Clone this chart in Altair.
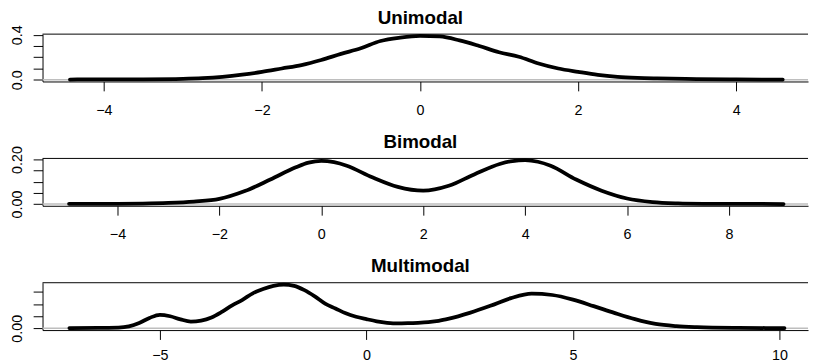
import altair as alt
import pandas as pd

# ---- data ----
uni_x = [-4.43, -4.0, -3.5, -3.0, -2.75, -2.5, -2.25, -2.0, -1.75, -1.5, -1.25, -1.0, -0.75,
         -0.5, -0.25, 0.0, 0.25, 0.5, 0.75, 1.0, 1.25, 1.5, 1.75, 2.0, 2.25, 2.5, 2.75, 3.0,
         3.5, 4.0, 4.59]
uni_y = [0.002, 0.003, 0.004, 0.008, 0.014, 0.026, 0.045, 0.070, 0.100, 0.130, 0.175, 0.230, 0.280,
         0.345, 0.375, 0.390, 0.385, 0.350, 0.300, 0.245, 0.205, 0.145, 0.100, 0.070, 0.043, 0.026, 0.017, 0.012,
         0.006, 0.003, 0.001]

bi_x = [-4.95, -4.0, -3.5, -3.0, -2.5, -2.0, -1.5, -1.0, -0.5, -0.25, 0.0, 0.25, 0.5, 1.0, 1.5,
        2.0, 2.5, 3.0, 3.5, 3.75, 4.0, 4.25, 4.5, 5.0, 5.5, 6.0, 6.5, 7.0, 7.5, 8.0, 9.07]
bi_y = [0.001, 0.001, 0.002, 0.005, 0.011, 0.023, 0.058, 0.110, 0.165, 0.186, 0.194, 0.188, 0.172, 0.120, 0.077,
        0.060, 0.082, 0.133, 0.180, 0.193, 0.197, 0.190, 0.172, 0.110, 0.060, 0.025, 0.009, 0.003, 0.001, 0.0005, 0.0]

multi_x = [-7.19, -6.5, -6.0, -5.75, -5.5, -5.25, -5.0, -4.75, -4.5, -4.25, -4.0, -3.75, -3.5, -3.25,
           -3.0, -2.75, -2.5, -2.25, -2.0, -1.75, -1.5, -1.25, -1.0, -0.75, -0.5, -0.25, 0.0, 0.25,
           0.5, 0.75, 1.0, 1.25, 1.5, 1.75, 2.0, 2.5, 3.0, 3.5, 4.0, 4.5, 5.0, 5.5, 6.0, 6.5, 7.0,
           7.5, 8.0, 9.0, 10.12]
multi_y = [0.001, 0.002, 0.003, 0.008, 0.022, 0.043, 0.056, 0.050, 0.037, 0.028, 0.032, 0.045, 0.068, 0.095,
           0.118, 0.145, 0.163, 0.176, 0.181, 0.176, 0.158, 0.132, 0.102, 0.082, 0.062, 0.048, 0.038, 0.029,
           0.023, 0.020, 0.021, 0.023, 0.026, 0.031, 0.040, 0.064, 0.093, 0.125, 0.1435, 0.138, 0.119, 0.092, 0.064, 0.038, 0.018,
           0.009, 0.005, 0.002, 0.001]

titles = ["Unimodal", "Bimodal", "Multimodal"]
x_ticks = [[-4, -2, 0, 2, 4], [-4, -2, 0, 2, 4, 6, 8], [-5, 0, 5, 10]]
y_ticks = [[0, 0.1, 0.2, 0.3, 0.4], [0, 0.05, 0.1, 0.15, 0.2], [0, 0.05, 0.1, 0.15]]
y_label_expr = [
    "datum.value === 0 ? '0.0' : (datum.value > 0.39 ? '0.4' : '')",
    "datum.value === 0 ? '0.00' : (datum.value > 0.19 ? '0.20' : '')",
    "datum.value === 0 ? '0.00' : ''",
]
x_domains = [[-4.777, 4.91], [-5.47, 9.55], [-7.84, 10.69]]
y_domains = [[-0.0156, 0.4056], [-0.0079, 0.2049], [-0.00726, 0.1888]]
x_label_pad = [12.5, 12.5, 9.5]

W = 776
H = 48
FONT = "Liberation Sans"


def panel(i, xs, ys):
    df = pd.DataFrame({"x": xs, "y": ys})
    xsc = alt.Scale(domain=x_domains[i], nice=False, zero=False)
    ysc = alt.Scale(domain=y_domains[i], nice=False, zero=False)
    xaxis = alt.Axis(values=x_ticks[i], format="d", title=None, grid=False,
                     tickSize=9.5, labelPadding=x_label_pad[i], labelFlush=False, labelOverlap=False,
                     minExtent=38, maxExtent=38)
    yaxis = alt.Axis(values=y_ticks[i], labelExpr=y_label_expr[i], title=None, grid=False,
                     tickSize=9.5, labelAngle=-90, labelAlign="center", labelBaseline="alphabetic",
                     labelPadding=11.5, labelFlush=False, labelOverlap=False,
                     minExtent=34, maxExtent=34)
    line = alt.Chart(df).mark_line(color="black", strokeWidth=3.8, interpolate="monotone",
                                   strokeCap="round", strokeJoin="round").encode(
        x=alt.X("x:Q", scale=xsc, axis=xaxis),
        y=alt.Y("y:Q", scale=ysc, axis=yaxis),
    )
    zero = alt.Chart(pd.DataFrame({"y": [0]})).mark_rule(color="#bebebe", strokeWidth=1.5).encode(
        y=alt.Y("y:Q", scale=ysc, axis=yaxis)
    )
    top = alt.Chart(pd.DataFrame({"a": [0]})).mark_rule(color="black", strokeWidth=1).encode(
        x=alt.value(0), x2=alt.value(W), y=alt.value(0)
    )
    ttl = alt.Chart(pd.DataFrame({"t": [titles[i]]})).mark_text(
        font=FONT, fontSize=19, fontWeight="bold", color="black",
        align="center", baseline="alphabetic"
    ).encode(text="t:N", x=alt.value(W / 2 - 5), y=alt.value(-10.7))
    return alt.layer(zero, line, top, ttl).properties(width=W, height=H)


chart = alt.vconcat(
    panel(0, uni_x, uni_y),
    panel(1, bi_x, bi_y),
    panel(2, multi_x, multi_y),
    spacing=12,
).properties(
    padding={"top": -3, "left": 0, "right": 0, "bottom": 0}, background="white"
).configure_view(
    stroke="transparent"
).configure_axis(
    labelFont=FONT, labelFontSize=14.5, labelColor="black", domainColor="black",
    tickColor="black", domainWidth=1, tickWidth=1
)

chart.save("out.html", embed_options={"renderer": "svg", "actions": False})
